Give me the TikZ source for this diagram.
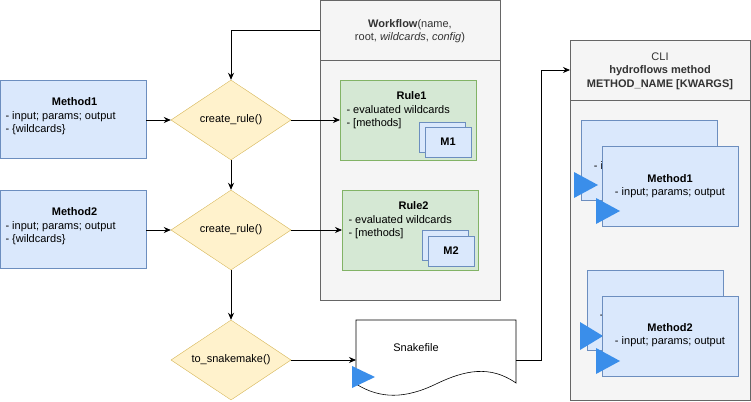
\documentclass[tikz,border=0pt]{standalone}
\usepackage{fontspec}
\setmainfont{Liberation Sans}
\usetikzlibrary{shapes.geometric,arrows.meta}
\definecolor{bfill}{HTML}{DAE8FC}\definecolor{bdraw}{HTML}{6C8EBF}
\definecolor{yfill}{HTML}{FFF2CC}\definecolor{ydraw}{HTML}{D6B656}
\definecolor{gfill}{HTML}{D5E8D4}\definecolor{gdraw}{HTML}{82B366}
\definecolor{cfill}{HTML}{F5F5F5}\definecolor{cdraw}{HTML}{666666}
\definecolor{ctext}{HTML}{333333}\definecolor{tri}{HTML}{3A8EEA}
\begin{document}
\begin{tikzpicture}[x=1pt,y=-1pt,font=\fontsize{11}{13.5}\selectfont,
 meth/.style={draw=bdraw,fill=bfill,inner sep=0pt},
 dia/.style={diamond,draw=ydraw,fill=yfill,minimum width=120pt,minimum height=80pt,aspect=1.5,inner sep=0pt},
 rule/.style={draw=gdraw,fill=gfill},
 cont/.style={draw=cdraw,fill=cfill},
 arr/.style={-{Stealth[length=7pt,width=6pt]},line width=0.8pt},
 tri/.style={fill=tri}]
\useasboundingbox (0,0) rectangle (751,401);
% left methods
\draw[meth] (0,80) rectangle (146,158);
\node[align=left,anchor=north west] (m1) at (2,94) {\makebox[138pt]{\textbf{Method1}}\\- input; params; output\\- \{wildcards\}};
\coordinate (m1r) at (146,120);
\draw[meth] (0,190) rectangle (146,268);
\node[align=left,anchor=north west] (m2) at (2,204) {\makebox[138pt]{\textbf{Method2}}\\- input; params; output\\- \{wildcards\}};
\coordinate (m2r) at (146,230);
% diamonds
\node[dia] (d1) at (231,120) {create\_rule()};
\node[dia] (d2) at (231,230) {create\_rule()};
\node[dia] (d3) at (231,360) {to\_snakemake()};
% workflow container
\draw[cont] (320,0) rectangle (500,300);
\draw[cdraw] (320,60)--(500,60);
\node[text=ctext,align=center] (wf) at (410,31) {\textbf{Workflow}(name,\\root, \textit{wildcards}, \textit{config})};
\coordinate (wfl) at (320,30);
% rules
\draw[rule] (340,80) rectangle (476,160);
\node[align=left,anchor=north west] (r1) at (343,88) {\makebox[130pt]{\textbf{Rule1}}\\- evaluated wildcards\\- [methods]};
\draw[meth] (419,122) rectangle (465,152);
\draw[meth] (425,127) rectangle (471,157);
\node (mm1) at (448,142) {\textbf{M1}};
\draw[rule] (342,190) rectangle (478,270);
\node[align=left,anchor=north west] (r2) at (345,198) {\makebox[130pt]{\textbf{Rule2}}\\- evaluated wildcards\\- [methods]};
\draw[meth] (422,230) rectangle (468,260);
\draw[meth] (428,236) rectangle (474,266);
\node (mm2) at (451,251) {\textbf{M2}};
\coordinate (r1l) at (340,120);
\coordinate (r2l) at (342,230);
% snakefile
\draw[fill=white,line width=0.6pt] (356,320)--(516,320)--(516,383) .. controls (490,365) and (465,370) .. (436,384) .. controls (405,399) and (380,399) .. (356,384) -- cycle;
\node (sf) at (416,348) {Snakefile};
\coordinate (sfl) at (356,360);
\coordinate (sfr) at (516,360);
\fill[tri] (352,366)--(375,377)--(352,388)--cycle;
% CLI container
\draw[cont] (570,40) rectangle (750,400);
\draw[cdraw] (570,100)--(750,100);
\node[text=ctext,align=center] (cli) at (660,71) {CLI\\\textbf{hydroflows method}\\\textbf{METHOD\_NAME [KWARGS]}};
\coordinate (clil) at (570,70);
% CLI methods
\draw[meth] (581,120) rectangle (717,200);
\node[align=center] at (649,160) {\textbf{Method1}\\- input; params; output};
\fill[tri] (574,172)--(598,185)--(574,198)--cycle;
\draw[meth] (602,146) rectangle (738,226);
\node[align=center] (c1) at (670,186) {\textbf{Method1}\\- input; params; output};
\fill[tri] (596,198)--(620,211)--(596,224)--cycle;
\draw[meth] (587,270) rectangle (723,350);
\node[align=center] at (655,309) {\textbf{Method2}\\- input; params; output};
\fill[tri] (580,322)--(603,336)--(580,350)--cycle;
\draw[meth] (602,296) rectangle (738,376);
\node[align=center] (c2) at (670,335) {\textbf{Method2}\\- input; params; output};
\fill[tri] (596,348)--(620,361)--(596,374)--cycle;
% connectors
\draw[arr] (m1r) -- (d1.west);
\draw[arr] (m2r) -- (d2.west);
\draw[arr] (d1.east) -- (r1l);
\draw[arr] (d2.east) -- (r2l);
\draw[arr] (d1.south) -- (d2.north);
\draw[arr] (d2.south) -- (d3.north);
\draw[arr] (d3.east) -- (sfl);
\draw[arr] (wfl) -| (d1.north);
\draw[arr] (sfr) -- (541,360) |- (clil);
\end{tikzpicture}
\end{document}
